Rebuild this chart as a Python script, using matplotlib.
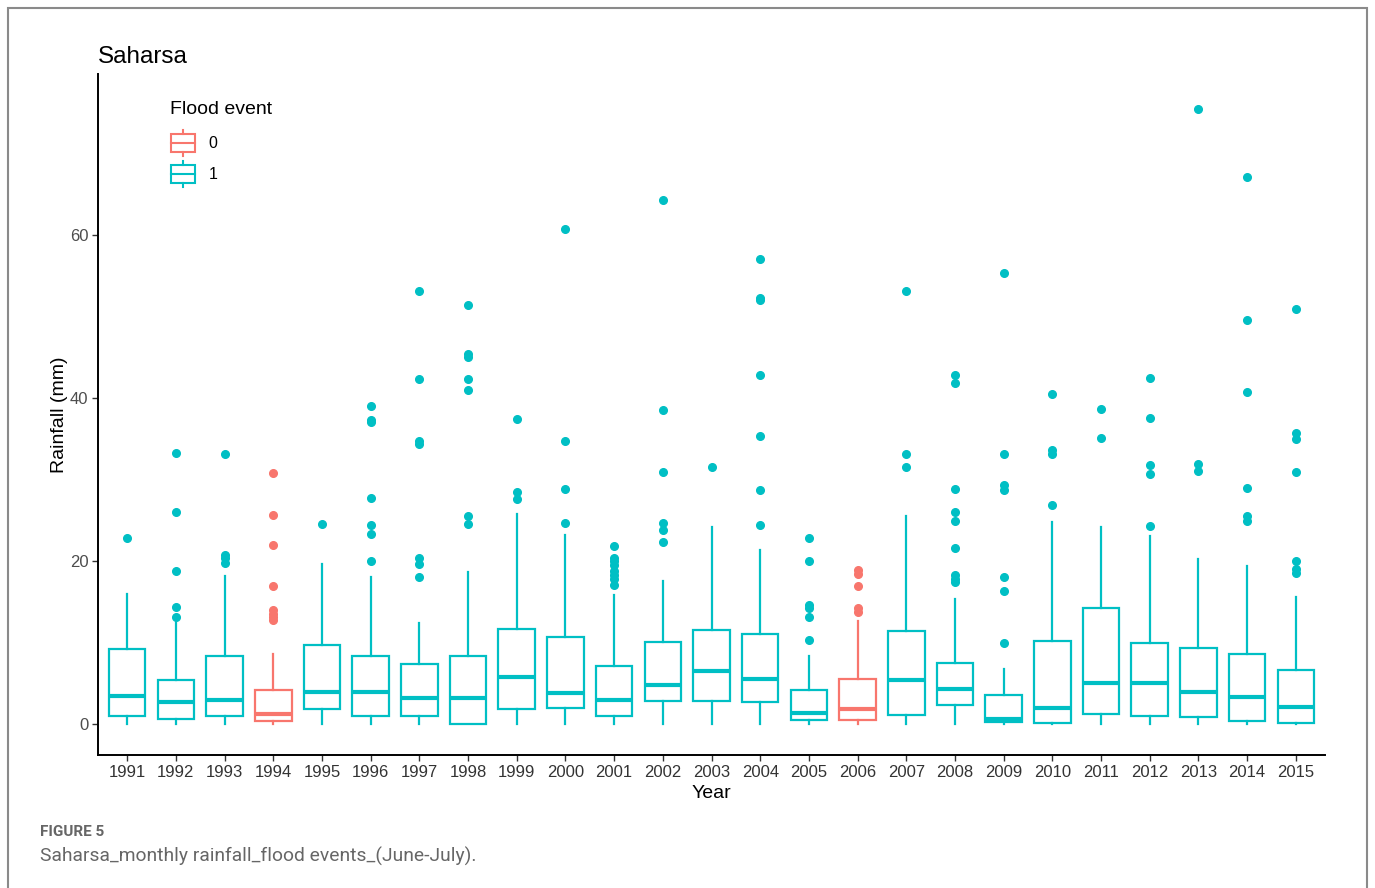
import matplotlib.pyplot as plt
import matplotlib.patches as mpatches
from matplotlib.lines import Line2D
from matplotlib.legend_handler import HandlerBase

plt.rcParams['font.family'] = ['Liberation Sans', 'DejaVu Sans']

TEAL = '#00BFC4'
RED = '#F8766D'

years = list(range(1991, 2016))
flood = [1, 1, 1, 0, 1, 1, 1, 1, 1, 1, 1, 1, 1, 1, 1, 0, 1, 1, 1, 1, 1, 1, 1, 1, 1]

q1 = [1.0, 0.64, 0.95, 0.32, 1.86, 1.0, 0.95, 0.0, 1.9, 1.96, 0.95, 2.86, 2.86,
      2.65, 0.53, 0.48, 1.06, 2.33, 0.2, 0.1, 1.22, 0.95, 0.85, 0.37, 0.1]
med = [3.5, 2.65, 2.9, 1.27, 3.93, 3.93, 3.24, 3.24, 5.78, 3.87, 2.9, 4.77, 6.47,
       5.57, 1.38, 1.8, 5.46, 4.3, 0.58, 1.96, 4.99, 4.99, 3.98, 3.34, 2.12]
q3 = [9.18, 5.4, 8.33, 4.24, 9.76, 8.33, 7.37, 8.38, 11.67, 10.66, 7.1, 10.13, 11.6,
      11.1, 4.19, 5.5, 11.4, 7.53, 3.6, 10.2, 14.2, 9.97, 9.28, 8.65, 6.58]
whislo = [0.0] * 25
whishi = [16.0, 12.5, 18.2, 8.6, 19.7, 18.1, 12.4, 18.7, 25.8, 23.2, 15.9, 17.5, 24.2,
          21.4, 8.4, 12.6, 25.5, 15.3, 6.8, 24.8, 24.2, 23.1, 20.3, 19.4, 15.6]
fliers = [
    [22.9],
    [33.3, 26.0, 18.8, 14.4, 13.2],
    [33.1, 20.8, 20.4, 19.8],
    [30.8, 25.7, 22.0, 16.9, 13.95, 13.5, 13.2, 12.8],
    [24.5],
    [39.0, 37.3, 37.1, 27.7, 24.4, 23.3, 20.0],
    [53.2, 42.4, 34.8, 34.4, 20.4, 19.6, 18.0],
    [51.4, 45.4, 45.0, 42.3, 41.0, 25.5, 24.6],
    [37.4, 28.5, 27.6],
    [60.8, 34.7, 28.9, 24.7],
    [21.8, 20.4, 20.0, 19.5, 18.8, 18.3, 17.8, 17.1],
    [64.35, 38.5, 31.0, 24.7, 23.8, 22.4],
    [31.5],
    [57.1, 52.3, 52.0, 42.8, 35.4, 28.75, 24.4],
    [22.8, 20.0, 14.6, 14.2, 13.2, 10.3],
    [18.9, 18.4, 16.9, 14.2, 13.8],
    [53.1, 33.2, 31.5],
    [42.8, 41.9, 28.9, 26.0, 24.9, 21.6, 18.3, 17.8, 17.4],
    [55.4, 33.2, 29.4, 28.75, 18.0, 16.3, 9.9],
    [40.5, 33.7, 33.2, 26.9],
    [38.7, 35.1],
    [42.5, 37.6, 31.8, 30.7, 24.3],
    [75.5, 31.9, 31.1],
    [67.1, 49.6, 40.8, 29.0, 25.6, 24.9],
    [50.9, 35.7, 35.0, 30.9, 20.05, 19.0, 18.6],
]
legend_labels = ['0', '1']


class BoxKey(HandlerBase):
    def __init__(self, color):
        super().__init__()
        self.color = color

    def create_artists(self, legend, orig_handle, xdescent, ydescent, width, height, fontsize, trans):
        x0, y0 = -xdescent, -ydescent
        bw = width * 0.95
        bx = x0 + (width - bw) / 2
        by0, by1 = y0 + height * 0.15, y0 + height * 0.85
        rect = mpatches.Rectangle((bx, by0), bw, by1 - by0, facecolor='white',
                                  edgecolor=self.color, lw=1.5, transform=trans)
        xm = x0 + width / 2
        ym = (by0 + by1) / 2
        arts = [rect,
                Line2D([bx, bx + bw], [ym, ym], color=self.color, lw=1.5, transform=trans),
                Line2D([xm, xm], [by1, y0 + height], color=self.color, lw=1.5, transform=trans),
                Line2D([xm, xm], [y0, by0], color=self.color, lw=1.5, transform=trans)]
        return arts


fig = plt.figure(figsize=(13.75, 8.88), dpi=100)
ax = fig.add_axes([98 / 1375, 1 - 755 / 888, 1227 / 1375, 681 / 888])

stats = []
for i in range(len(years)):
    stats.append({'med': med[i], 'q1': q1[i], 'q3': q3[i], 'whislo': whislo[i],
                  'whishi': whishi[i], 'fliers': fliers[i], 'label': str(years[i])})

for i, s in enumerate(stats):
    c = TEAL if flood[i] == 1 else RED
    ax.bxp([s], positions=[i + 1], widths=0.75, showcaps=False, patch_artist=True,
           boxprops=dict(facecolor='white', edgecolor=c, linewidth=1.6),
           whiskerprops=dict(color=c, linewidth=1.6),
           medianprops=dict(color=c, linewidth=3.0, solid_capstyle='butt'),
           flierprops=dict(marker='o', markerfacecolor=c, markeredgecolor=c, markersize=5.5))

ax.set_xlim(0.4, 25.6)
ax.set_ylim(-3.8, 79.8)
ax.set_xticks(range(1, 26))
ax.set_xticklabels([str(y) for y in years], fontsize=12, color='#333333')
ax.set_yticks([0, 20, 40, 60])
ax.set_yticklabels(['0', '20', '40', '60'], fontsize=12, color='#4d4d4d')
ax.tick_params(axis='both', length=4, width=1.0, color='#333333', pad=3)
for side in ['top', 'right']:
    ax.spines[side].set_visible(False)
for side in ['left', 'bottom']:
    ax.spines[side].set_linewidth(1.4)
ax.set_xlabel('Year', fontsize=14, labelpad=4)
ax.set_ylabel('Rainfall (mm)', fontsize=14, labelpad=1)
ax.set_title('Saharsa', fontsize=17.5, loc='left', x=0.0, pad=8)

h0 = mpatches.Patch(color=RED)
h1 = mpatches.Patch(color=TEAL)
leg = ax.legend([h0, h1], legend_labels, title='Flood event', loc='upper left',
                bbox_to_anchor=(0.047, 0.981), frameon=False, fontsize=11.5,
                title_fontsize=14, handlelength=1.6, handleheight=2.1,
                handletextpad=0.8, labelspacing=0.35,
                handler_map={h0: BoxKey(RED), h1: BoxKey(TEAL)})
leg._legend_box.align = 'left'
leg._legend_box.sep = 8.5  # a bit more room under the legend title

fig.patches.append(mpatches.Rectangle((8 / 1375, -0.05), 1359 / 1375, 1.05 - 8 / 888,
                                      transform=fig.transFigure, fill=False,
                                      edgecolor='#8a8a8a', lw=1.5))
fig.text(40 / 1375, 1 - 832 / 888, 'FIGURE 5', fontsize=11, color='#666666',
         family=['Roboto', 'DejaVu Sans'], fontweight='bold', va='center')
fig.text(40 / 1375, 1 - 856 / 888, 'Saharsa_monthly rainfall_flood events_(June-July).',
         fontsize=13.9, color='#666666', family=['Roboto', 'DejaVu Sans'], va='center')

fig.savefig('out.png', dpi=100)
